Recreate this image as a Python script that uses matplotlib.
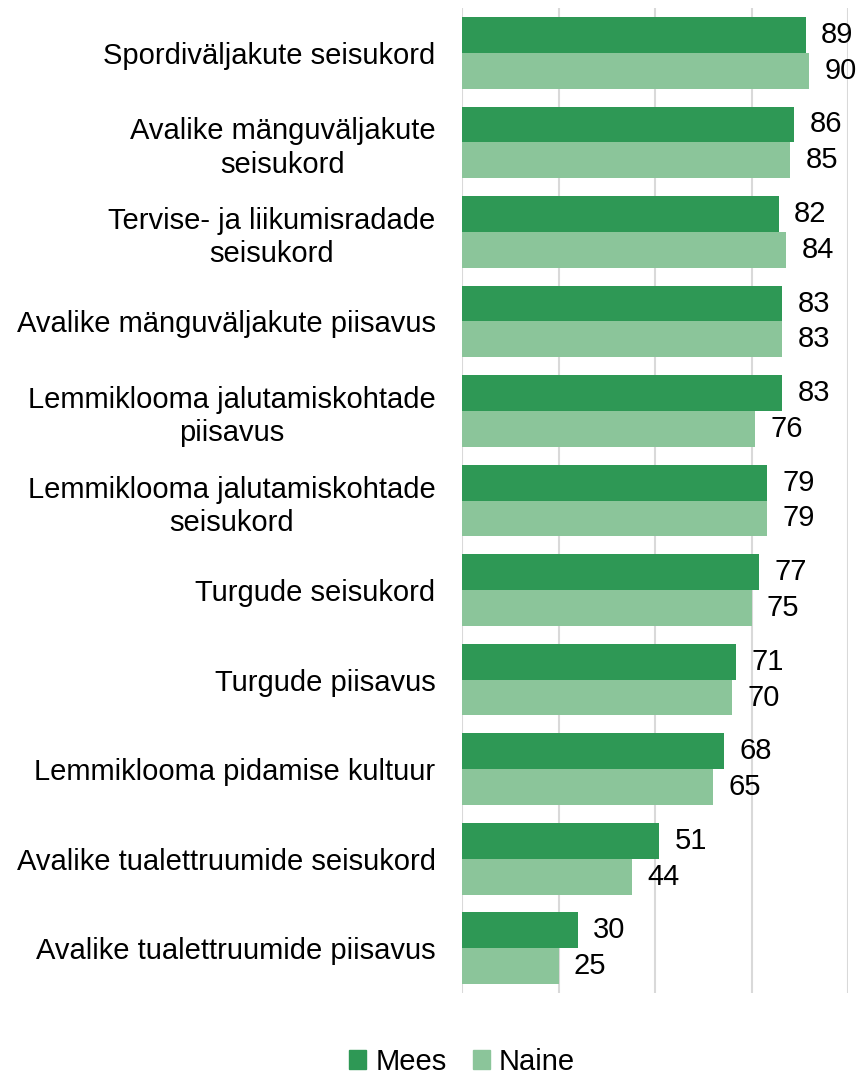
import matplotlib
matplotlib.use("Agg")
import matplotlib.pyplot as plt
import numpy as np
from matplotlib.patches import Patch

plt.rcParams['font.family'] = ['Liberation Sans', 'DejaVu Sans']

categories = [
    "Spordiväljakute seisukord",
    "Avalike mänguväljakute\nseisukord",
    "Tervise- ja liikumisradade\nseisukord",
    "Avalike mänguväljakute piisavus",
    "Lemmiklooma jalutamiskohtade\npiisavus",
    "Lemmiklooma jalutamiskohtade\nseisukord",
    "Turgude seisukord",
    "Turgude piisavus",
    "Lemmiklooma pidamise kultuur",
    "Avalike tualettruumide seisukord",
    "Avalike tualettruumide piisavus",
]
mees = [89, 86, 82, 83, 83, 79, 77, 71, 68, 51, 30]
naine = [90, 85, 84, 83, 76, 79, 75, 70, 65, 44, 25]
series_names = ["Mees", "Naine"]
colors = ["#2E9855", "#8BC59A"]

fig = plt.figure(figsize=(8.58, 10.77), dpi=100)
ax = fig.add_axes([462/858, 1-993/1077, (848-462)/858, (993-8)/1077])

n = len(categories)
y = np.arange(n)
h = 0.4
ax.barh(y - h/2, mees, height=h, color=colors[0], zorder=3)
ax.barh(y + h/2, naine, height=h, color=colors[1], zorder=3)

fs = 21
for i in range(n):
    ax.text(mees[i] + 4, y[i] - h/2, str(mees[i]), va='center', ha='left', fontsize=fs, color='#000000')
    ax.text(naine[i] + 4, y[i] + h/2, str(naine[i]), va='center', ha='left', fontsize=fs, color='#000000')

ax.set_xlim(0, 100)
ax.set_ylim(n - 0.5, -0.5)
ax.set_xticks([0, 25, 50, 75, 100])
ax.set_xticklabels([])
ax.tick_params(axis='x', length=0)
ax.tick_params(axis='y', length=0, pad=19)
ax.set_yticks(y)
ax.set_yticklabels(categories, fontsize=fs, ha='right', multialignment='center', linespacing=1.25)
ax.grid(axis='x', color='#D9D9D9', linewidth=1.5, zorder=0)
for s in ['top', 'right', 'bottom', 'left']:
    ax.spines[s].set_visible(False)

handles = [Patch(color=colors[0], label=series_names[0]), Patch(color=colors[1], label=series_names[1])]
fig.legend(handles=handles, loc='center', bbox_to_anchor=(462/858, 1-1062/1077), ncol=2,
           frameon=False, fontsize=fs, handlelength=0.6, handleheight=0.6, handletextpad=0.3, columnspacing=0.9)

fig.savefig("out.png", dpi=100)
